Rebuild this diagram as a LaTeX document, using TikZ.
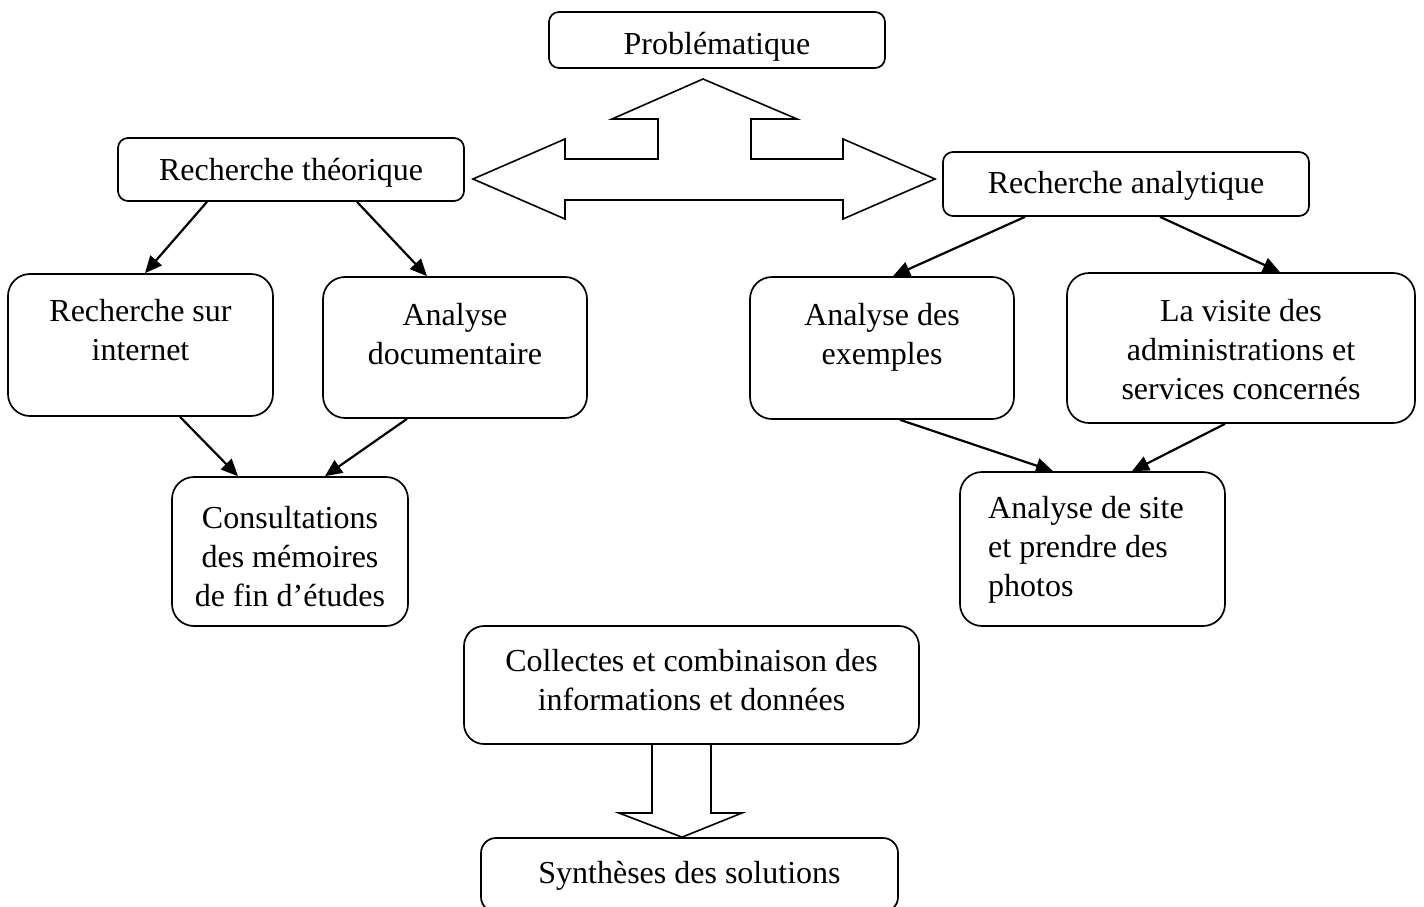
\documentclass[tikz,border=0pt]{standalone}
\usepackage{fontspec}
\setmainfont{Liberation Serif}
\usetikzlibrary{arrows.meta}
\begin{document}
\begin{tikzpicture}[x=1pt,y=-1pt,
  box/.style={draw, line width=1.7pt, rounded corners=#1, inner sep=0pt},
  box/.default=22pt,
  txt/.style={inner sep=0pt, align=center, font=\fontsize{32}{39}\selectfont},
  con/.style={line width=2.2pt, -{Triangle[length=17pt,width=15pt]}},
  block/.style={draw, line width=1.6pt, line join=miter, fill=white}]
\useasboundingbox[fill=white] (0,0) rectangle (1424,907);
\newcommand{\fl}{\rule{0pt}{24pt}}

% boxes
\node[box=10pt, minimum width=336pt, minimum height=56pt] (prob) at (717,40) {};
\node[box=10pt, minimum width=346pt, minimum height=63pt] (rt) at (291,169.5) {};
\node[box=10pt, minimum width=366pt, minimum height=64pt] (ra) at (1126,184) {};
\node[box, minimum width=265pt, minimum height=142pt] (rsi) at (140.5,345) {};
\node[box, minimum width=264pt, minimum height=141pt] (ad) at (455,347.5) {};
\node[box, minimum width=264pt, minimum height=142pt] (ae) at (882,348) {};
\node[box, minimum width=348pt, minimum height=150pt] (lv) at (1241,348) {};
\node[box, minimum width=236pt, minimum height=149pt] (cons) at (290,551.5) {};
\node[box, minimum width=265pt, minimum height=154pt] (site) at (1092.5,549) {};
\node[box=20pt, minimum width=455pt, minimum height=118pt] (coll) at (691.5,685) {};
\node[box=15pt, minimum width=417pt, minimum height=74pt] (syn) at (689.5,875) {};

% texts
\node[txt, anchor=base] (prob-t) at (717,55) {Problématique};
\node[txt, anchor=base] (rt-t) at (291,180) {Recherche théorique};
\node[txt, anchor=base] (ra-t) at (1126,193) {Recherche analytique};
\node[txt, anchor=north] (rsi-t) at (140.5,297) {\fl Recherche sur\\internet};
\node[txt, anchor=north] (ad-t) at (455,301) {\fl Analyse\\documentaire};
\node[txt, anchor=north] (ae-t) at (882,301) {\fl Analyse des\\exemples};
\node[txt, anchor=north] (lv-t) at (1241,297) {\fl La visite des\\administrations et\\services concernés};
\node[txt, anchor=north] (cons-t) at (290,504) {\fl Consultations\\des mémoires\\de fin d’études};
\node[txt, align=left, anchor=north west] (site-t) at (988,494) {\fl Analyse de site\\et prendre des\\photos};
\node[txt, anchor=north] (coll-t) at (691.5,647) {\fl Collectes et combinaison des\\informations et données};
\node[txt, anchor=base] (syn-t) at (689.5,883) {Synthèses des solutions};

% connectors
\draw[con] (rt.south -| 207,0) -- (rsi.north -| 145,0);
\draw[con] (rt.south -| 357,0) -- (ad.north -| 427,0);
\draw[con] (rsi.south -| 180,0) -- (cons.north -| 238,0);
\draw[con] (ad.south -| 407,0) -- (cons.north -| 325,0);
\draw[con] (ra.south -| 1025,0) -- (ae.north -| 893,0);
\draw[con] (ra.south -| 1160,0) -- (lv.north -| 1280,0);
\draw[con] (ae.south -| 900,0) -- (site.north -| 1053,0);
\draw[con] (lv.south -| 1225,0) -- (site.north -| 1132,0);

% three-way block arrow
\draw[block] (473,179) -- (565,139) -- (565,159) -- (658,159) -- (658,119)
  -- (612,119) -- (703,79) -- (797,119) -- (751,119) -- (751,159)
  -- (843,159) -- (843,139) -- (935,179) -- (843,219) -- (843,200)
  -- (565,200) -- (565,219) -- cycle;

% down block arrow
\draw[block, fill=none] (coll.south -| 652,0) -- (652,813) -- (619,813) -- (syn.north -| 682,0)
  -- (742,813) -- (711,813) -- (coll.south -| 711,0);
\end{tikzpicture}
\end{document}
